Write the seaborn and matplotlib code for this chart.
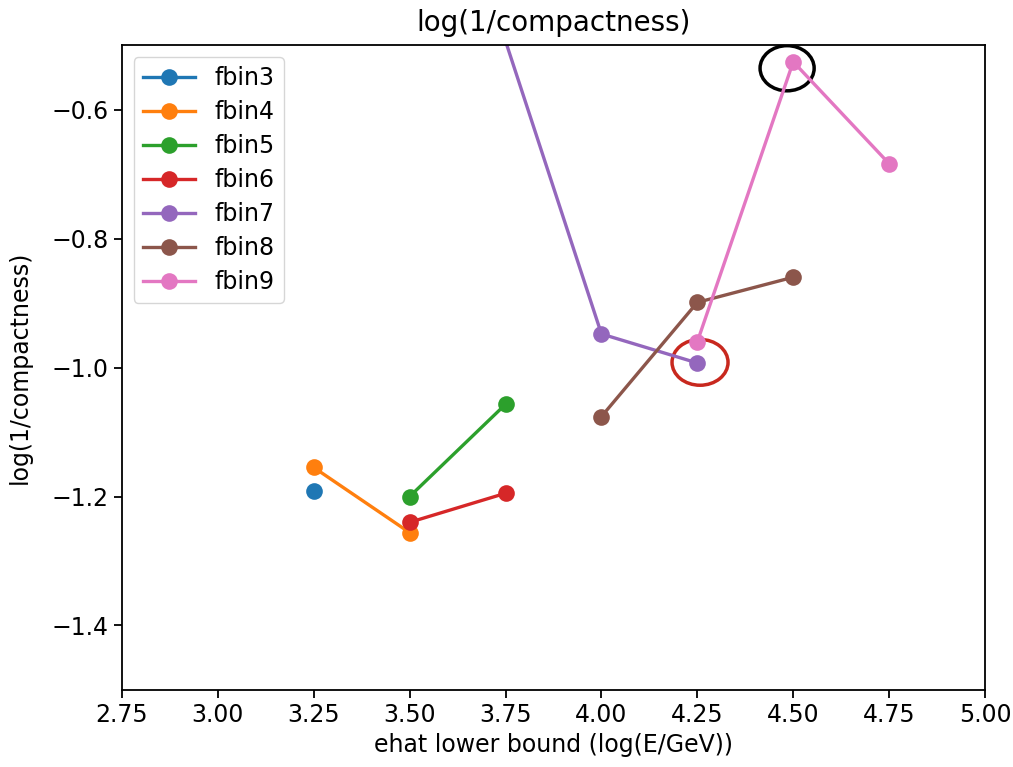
import pandas as pd
import matplotlib.pyplot as plt
import seaborn as sns
from matplotlib.patches import Ellipse

# data
bins = ['fbin3', 'fbin4', 'fbin5', 'fbin6', 'fbin7', 'fbin8', 'fbin9']
fbin3_x = [3.25]
fbin3_y = [-1.192]
fbin4_x = [3.25, 3.50]
fbin4_y = [-1.155, -1.256]
fbin5_x = [3.50, 3.75]
fbin5_y = [-1.200, -1.057]
fbin6_x = [3.50, 3.75]
fbin6_y = [-1.240, -1.195]
fbin7_x = [3.50, 4.00, 4.25]
fbin7_y = [-0.04, -0.948, -0.993]
fbin8_x = [4.00, 4.25, 4.50]
fbin8_y = [-1.076, -0.899, -0.860]
fbin9_x = [4.25, 4.50, 4.75]
fbin9_y = [-0.960, -0.526, -0.684]

xs = [fbin3_x, fbin4_x, fbin5_x, fbin6_x, fbin7_x, fbin8_x, fbin9_x]
ys = [fbin3_y, fbin4_y, fbin5_y, fbin6_y, fbin7_y, fbin8_y, fbin9_y]

plt.rcParams['font.size'] = 17
fig = plt.figure(figsize=(10.13, 7.67), dpi=100)
ax = fig.add_axes([0.1204, 0.1004, 0.852, 0.8409])

colors = sns.color_palette('tab10')
for i, name in enumerate(bins):
    sns.lineplot(x=xs[i], y=ys[i], color=colors[i], marker='o', markersize=12,
                 markeredgewidth=0, linewidth=2.4, label=name, ax=ax)

# highlight circles
ax.add_patch(Ellipse((4.484, -0.536), 0.141, 0.070, fill=False, edgecolor='black', linewidth=2.5))
ax.add_patch(Ellipse((4.257, -0.992), 0.146, 0.071, fill=False, edgecolor='#c8281e', linewidth=2.5))

ax.set_xlim(2.75, 5.0)
ax.set_ylim(-1.5, -0.5)
ax.set_xticks([2.75, 3.0, 3.25, 3.5, 3.75, 4.0, 4.25, 4.5, 4.75, 5.0])
ax.set_yticks([-1.4, -1.2, -1.0, -0.8, -0.6])
ax.tick_params(length=6, width=1.3)
for s in ax.spines.values():
    s.set_linewidth(1.3)
ax.set_title('log(1/compactness)', fontsize=20, pad=10)
ax.set_xlabel('ehat lower bound (log(E/GeV))')
ax.set_ylabel('log(1/compactness)', labelpad=14)
ax.legend(loc='upper left', fontsize=17, labelspacing=0.42, handlelength=2.2)

fig.savefig('out.png', dpi=100)
